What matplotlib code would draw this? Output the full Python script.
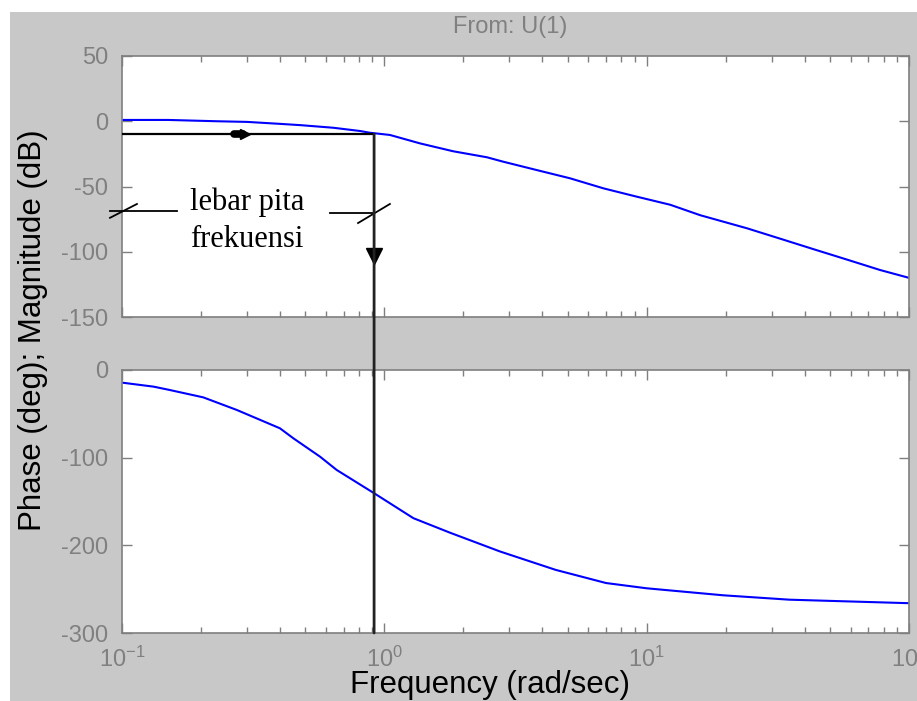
import numpy as np
import matplotlib
matplotlib.use("Agg")
import matplotlib.pyplot as plt
from matplotlib.patches import Rectangle, ConnectionPatch
from matplotlib.ticker import FixedLocator, LogLocator, NullFormatter

plt.rcParams['font.family'] = ['Liberation Sans', 'DejaVu Sans']
plt.rcParams['mathtext.fontset'] = 'custom'
plt.rcParams['mathtext.rm'] = 'Liberation Sans'
plt.rcParams['axes.unicode_minus'] = False

# ---- data ----
mag_freq = [0.1, 0.15, 0.23, 0.3, 0.4, 0.48, 0.64, 0.81, 0.88, 1.05, 1.37, 1.83,
            2.46, 2.84, 3.81, 5.1, 6.84, 9.17, 12.3, 16.0, 24.1, 32.3, 43.2,
            58.0, 77.6, 100]
mag_db = [1, 1, 0, -0.5, -2, -3, -5, -7.5, -8.8, -10.5, -17, -23,
          -27.6, -31, -37.4, -43.7, -51.4, -57.8, -64, -72, -82, -90, -98,
          -106, -114, -120]

phase_freq = [0.1, 0.132, 0.152, 0.204, 0.274, 0.40, 0.45, 0.569, 0.658, 0.908,
              1.29, 1.78, 2.76, 4.5, 7.0, 10, 19.6, 35, 100]
phase_deg = [-14.4, -19, -22.8, -31.2, -45.6, -66.5, -77.9, -98.9, -114, -140,
             -169, -185.6, -207, -228, -243, -249, -257, -262, -266]

bw_freq = 0.914
bw_mag = -10

x_ticks = [0.1, 1, 10, 100]
x_ticklabels = [r'$\mathregular{10^{-1}}$', r'$\mathregular{10^{0}}$',
                r'$\mathregular{10^{1}}$', r'$\mathregular{10^{2}}$']
mag_ticks = [-150, -100, -50, 0, 50]
phase_ticks = [-300, -200, -100, 0]

annot_line1 = 'lebar pita'
annot_line2 = 'frekuensi'

# ---- figure ----
W, H = 917, 701
fig = plt.figure(figsize=(W / 100, H / 100), dpi=100, facecolor='white')
fig.add_artist(Rectangle((10 / W, 0), 1 - 10 / W, 1 - 12 / H,
                         transform=fig.transFigure, facecolor='#c8c8c8',
                         edgecolor='none', zorder=-10))

gray = '#7f7f7f'
left = 122 / W
width = (909 - 122) / W
ax1 = fig.add_axes([left, 1 - 317 / H, width, (317 - 56) / H])
ax2 = fig.add_axes([left, 1 - 633 / H, width, (633 - 370) / H])

for ax in (ax1, ax2):
    ax.set_xscale('log')
    ax.set_xlim(0.1, 100)
    ax.set_facecolor('white')
    for s in ax.spines.values():
        s.set_color(gray)
        s.set_linewidth(1.2)
    ax.xaxis.set_major_locator(FixedLocator(x_ticks))
    ax.xaxis.set_minor_locator(LogLocator(base=10, subs=np.arange(2, 10)))
    ax.xaxis.set_minor_formatter(NullFormatter())
    ax.tick_params(which='both', direction='in', top=True, right=True,
                   color=gray, labelcolor='#808080', labelsize=17, width=1)
    ax.tick_params(which='major', length=7, pad=10)
    ax.tick_params(which='minor', length=4)

ax1.plot(mag_freq, mag_db, color='#0000ff', lw=1.5)
ax1.set_ylim(-150, 50)
ax1.set_yticks(mag_ticks)
ax1.set_xticklabels([])

ax2.plot(phase_freq, phase_deg, color='#0000ff', lw=1.5)
ax2.set_ylim(-300, 0)
ax2.set_yticks(phase_ticks)
ax2.set_xticklabels(x_ticklabels)

# bandwidth construction lines
ax1.plot([0.1, bw_freq], [bw_mag, bw_mag], color='black', lw=1.6, zorder=5)
ax1.plot([0.268, 0.29], [bw_mag, bw_mag], color='black', lw=5.5,
         solid_capstyle='round', zorder=6)
ax1.plot([0.295], [bw_mag], marker='>', color='black', ms=7, zorder=6)
con = ConnectionPatch(xyA=(bw_freq, bw_mag), coordsA=ax1.transData,
                      xyB=(bw_freq, -300), coordsB=ax2.transData,
                      color='#222222', lw=2.0, zorder=5)
fig.add_artist(con)
ax1.plot([bw_freq], [-103], marker='v', color='black', ms=11, zorder=6,
         clip_on=False)

# annotation
serif = ['Liberation Serif', 'DejaVu Serif']
ax1.text(0.1815, -68, annot_line1, family=serif, fontsize=22,
         ha='left', va='baseline', color='black')
ax1.text(0.1815, -96.3, annot_line2, family=serif, fontsize=22,
         ha='left', va='baseline', color='black')
for xs, ys in [([0.090, 0.162], [-69, -69]),
               ([0.090, 0.114], [-74, -63.4]),
               ([0.62, 0.905], [-70.3, -70.3]),
               ([0.794, 1.05], [-78, -63.4])]:
    ax1.plot(xs, ys, color='black', lw=1.3, clip_on=False, zorder=5)

# labels / title
fig.text(510 / W, 1 - 27 / H, 'From: U(1)', ha='center', va='center',
         fontsize=17, color='#808080')
fig.text(33 / W, 1 - 330 / H, 'Phase (deg); Magnitude (dB)', rotation=90,
         ha='center', va='center', fontsize=22.5, color='black')
fig.text(490 / W, 1 - 685 / H, 'Frequency (rad/sec)', ha='center',
         va='center', fontsize=22.5, color='black')

fig.savefig('out.png', dpi=100, facecolor='white')
